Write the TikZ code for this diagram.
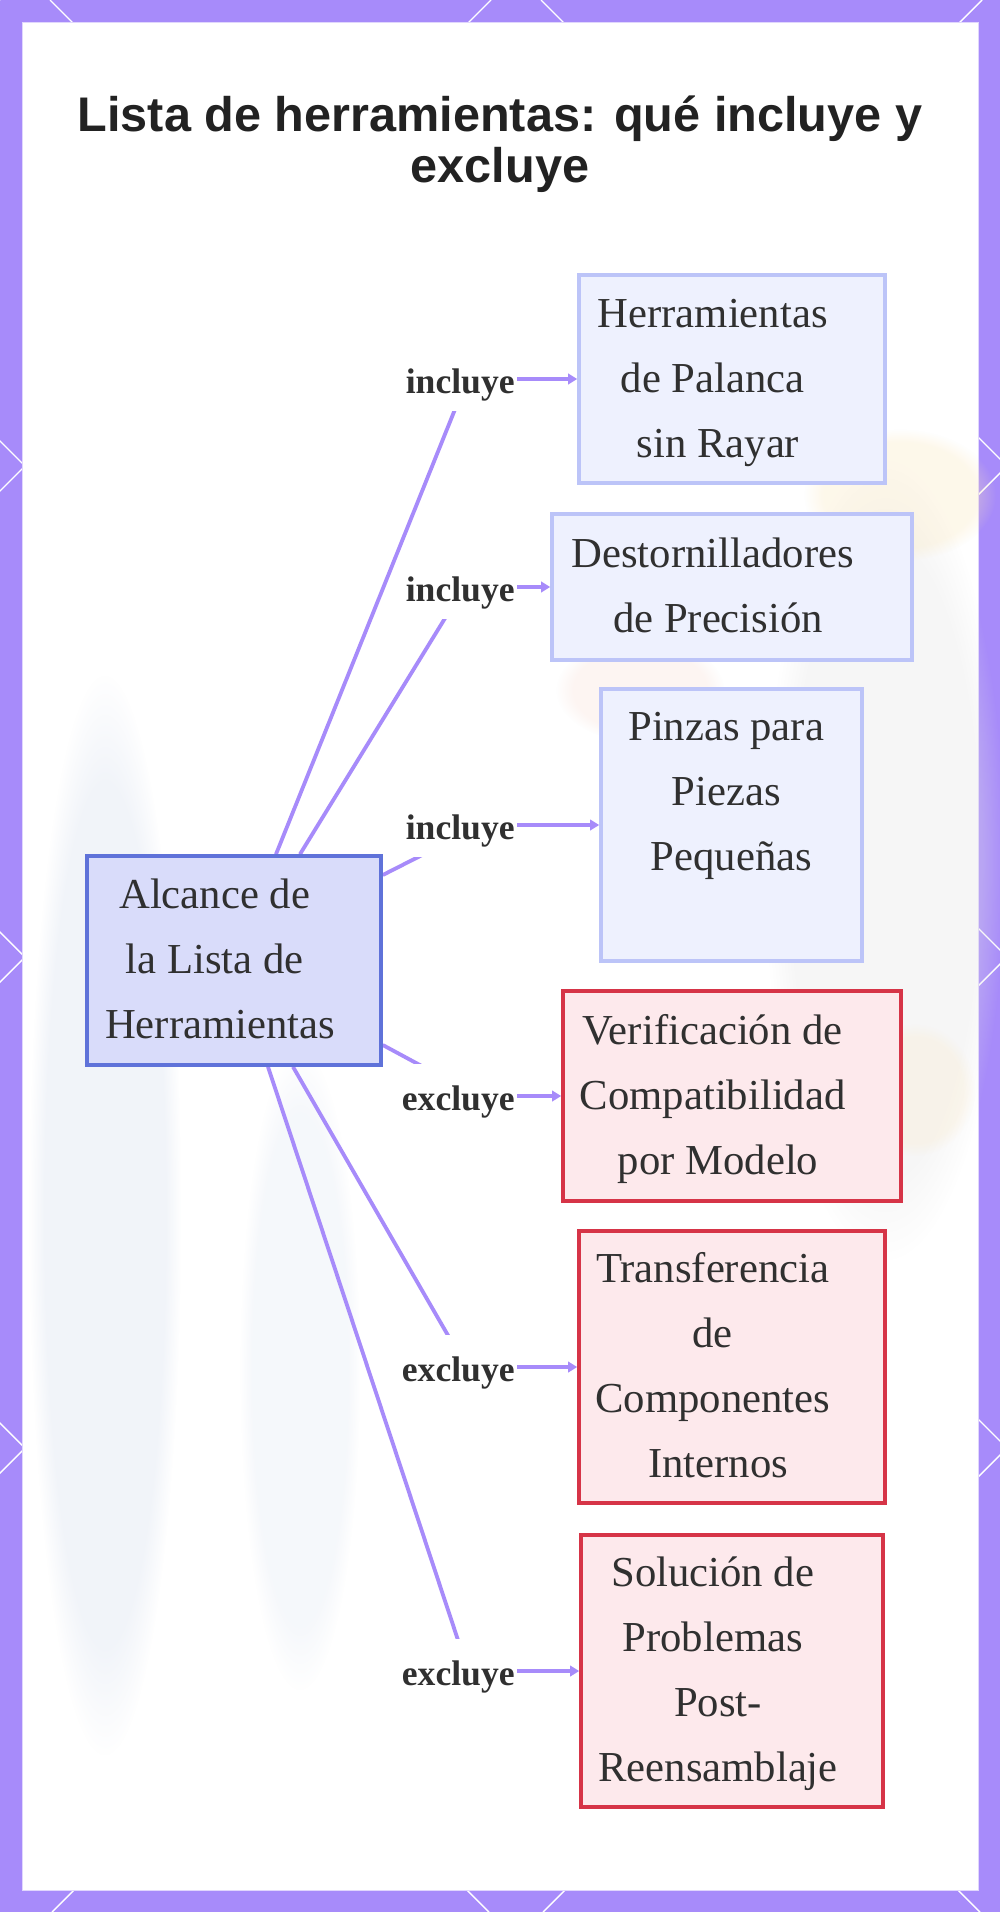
\documentclass[tikz,border=0pt]{standalone}
\usepackage{fontspec}
\setmainfont{Liberation Serif}
\newfontfamily\titlefont{Liberation Sans}
\usetikzlibrary{arrows.meta,fadings}
\definecolor{band}{HTML}{A78BFA}
\definecolor{conncol}{HTML}{A78BFA}
\definecolor{cfill}{HTML}{D9DCFA}
\definecolor{cdraw}{HTML}{5F72D9}
\definecolor{ifill}{HTML}{EEF1FE}
\definecolor{idraw}{HTML}{BCC4F8}
\definecolor{efill}{HTML}{FDE9EC}
\definecolor{edraw}{HTML}{D63447}
\definecolor{txt}{HTML}{303030}
\definecolor{ttl}{HTML}{222222}
\newcommand\ts{\kern0.25em}
\newcommand\boxfont{\fontsize{21.35pt}{32.5pt}\selectfont}
\newcommand\lblfont{\fontsize{17.8pt}{20pt}\selectfont\bfseries}
\pgfdeclarelayer{back}
\pgfdeclarelayer{mid}
\pgfsetlayers{back,mid,main}
\tikzset{
  latt/.style={draw=white, line width=0.7pt},
  blob/.style={path fading=circle with fuzzy edge 20 percent},
  boxbase/.style={draw, line width=1.8pt, inner sep=0pt, text=txt, font=\boxfont},
  incl/.style={boxbase, fill=ifill, draw=idraw},
  excl/.style={boxbase, fill=efill, draw=edraw},
  centre/.style={boxbase, fill=cfill, draw=cdraw},
  lbl/.style={fill=white, text=txt, font=\lblfont, inner xsep=1pt, inner ysep=2pt,
              text height=21pt, text depth=7pt, anchor=east},
  conn/.style={draw=conncol, line width=1.9pt},
  arr/.style={draw=conncol, line width=1.9pt, -{Triangle[length=4.5pt,width=5.2pt]}},
  ttlstyle/.style={font=\titlefont\bfseries\fontsize{24.3pt}{25.5pt}\selectfont,
              text=ttl, align=center, inner sep=0pt}
}
\begin{document}
\begin{tikzpicture}[x=0.5pt,y=-0.5pt]
\useasboundingbox (0,0) rectangle (1000,1912);
\begin{pgfonlayer}{back}
\fill[band] (0,0) rectangle (1000,1912);
\begin{scope}
\clip (0,0) rectangle (1000,1912);
\foreach \k in {0,...,6} \draw[latt] ({491*\k},0) -- ({491*\k-1912},1912);
\foreach \m in {-4,...,1} \draw[latt] ({50+491*\m},0) -- ({50+491*\m+1912},1912);
\end{scope}
\fill[white, draw=band!35, line width=0.5pt] (22,22) rectangle (978,1890);
% faint blurred background shapes
\fill[blob, color={rgb,255:red,214;green,223;blue,238}, fill opacity=0.32] (105,1215) ellipse [x radius=38pt, y radius=270pt];
\fill[blob, color={rgb,255:red,222;green,230;blue,242}, fill opacity=0.28] (300,1370) ellipse [x radius=30pt, y radius=160pt];
\fill[blob, color={rgb,255:red,228;green,228;blue,228}, fill opacity=0.3] (885,860) ellipse [x radius=60pt, y radius=200pt];
\fill[blob, color={rgb,255:red,251;green,232;blue,188}, fill opacity=0.3] (900,495) ellipse [x radius=48pt, y radius=33pt];
\fill[blob, color={rgb,255:red,246;green,212;blue,200}, fill opacity=0.22] (640,690) ellipse [x radius=42pt, y radius=26pt];
\fill[blob, color={rgb,255:red,251;green,234;blue,200}, fill opacity=0.28] (915,1090) ellipse [x radius=30pt, y radius=33pt];
\end{pgfonlayer}

\node[ttlstyle] (title) at (500,144.5) {Lista de herramientas: qué incluye y\\excluye};

\node[centre, minimum width=147pt, minimum height=104.5pt] (c) at (234,960.5)
  {\begin{tabular}{@{}c@{\hspace{14pt}}}Alcance de\ts\\la Lista de\ts\\Herramientas\end{tabular}};

\node[incl, minimum width=153pt, minimum height=104pt] (b1) at (732,379)
  {\begin{tabular}{@{}c@{\hspace{14pt}}}Herramientas\ts\\de Palanca\ts\\sin Rayar\end{tabular}};
\node[incl, minimum width=180pt, minimum height=73pt] (b2) at (732,587)
  {\begin{tabular}{@{}c@{\hspace{14pt}}}Destornilladores\ts\\de Precisión\end{tabular}};
\node[incl, minimum width=130.5pt, minimum height=136pt] (b3) at (731.5,825)
  {\begin{tabular}{@{}c@{}}Pinzas para\ts\\Piezas\ts\\Pequeñas\\\mbox{}\end{tabular}};
\node[excl, minimum width=169pt, minimum height=105pt] (b4) at (732,1096)
  {\begin{tabular}{@{}c@{\hspace{14pt}}}Verificación de\ts\\Compatibilidad\ts\\por Modelo\end{tabular}};
\node[excl, minimum width=153pt, minimum height=136pt] (b5) at (732,1367)
  {\begin{tabular}{@{}c@{\hspace{14pt}}}Transferencia\ts\\de\ts\\Componentes\ts\\Internos\end{tabular}};
\node[excl, minimum width=151pt, minimum height=136pt] (b6) at (732,1671)
  {\begin{tabular}{@{}c@{\hspace{14pt}}}Solución de\ts\\Problemas\ts\\Post-\\Reensamblaje\end{tabular}};

\node[lbl] (l1) at (517,379) {incluye};
\node[lbl] (l2) at (517,587) {incluye};
\node[lbl] (l3) at (517,825) {incluye};
\node[lbl] (l4) at (517,1096) {excluye};
\node[lbl] (l5) at (517,1367) {excluye};
\node[lbl] (l6) at (517,1671) {excluye};

\begin{pgfonlayer}{mid}
\draw[conn] ([xshift=21pt]c.north) -- ([xshift=3.5pt]l1.center);
\draw[conn] ([xshift=33pt]c.north) -- ([xshift=2pt]l2.center);
\draw[conn] ([yshift=42.75pt]c.east) -- ([xshift=10.5pt]l3.center);
\draw[conn] ([yshift=-42.25pt]c.east) -- ([xshift=9.5pt]l4.center);
\draw[conn] ([xshift=29.5pt]c.south) -- ([xshift=4pt]l5.center);
\draw[conn] ([xshift=17pt]c.south) -- ([xshift=5pt]l6.center);
\end{pgfonlayer}

\draw[arr] (l1) -- (b1);
\draw[arr] (l2) -- (b2);
\draw[arr] (l3) -- (b3);
\draw[arr] (l4) -- (b4);
\draw[arr] (l5) -- (b5);
\draw[arr] (l6) -- (b6);
\end{tikzpicture}
\end{document}
